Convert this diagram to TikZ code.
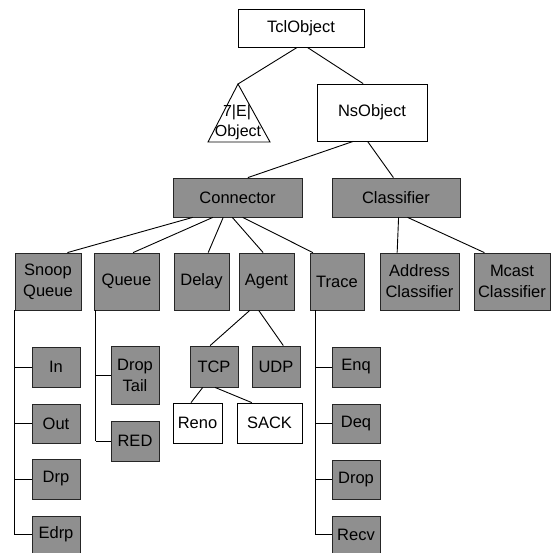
\documentclass[tikz,border=0pt]{standalone}
\usepackage{fontspec}
\setmainfont{Liberation Sans}
\usetikzlibrary{calc}
\definecolor{shade}{RGB}{143,143,143}
\tikzset{
  box/.style={draw=black, line width=0.8pt, rectangle, inner sep=0pt, align=center,
    font=\fontsize{16.5}{21}\selectfont},
  plainbox/.style={box, fill=white},
  greybox/.style={box, fill=shade, draw=black!85},
  link/.style={draw=black, line width=0.9pt},
}
\begin{document}
\begin{tikzpicture}[x=1pt, y=-1pt]
\useasboundingbox (0,0) rectangle (554,553);
\fill[white] (0,0) rectangle (554,553);

% root and first level
\node[plainbox, minimum width=126pt, minimum height=38pt] (tcl) at (301,28) {TclObject};
\node[plainbox, minimum width=110pt, minimum height=57pt] (ns) at (372,112.5) {NsObject};

% triangle standing for the remaining objects
\coordinate (apex) at (238,84);
\coordinate (bl) at (208,142);
\coordinate (br) at (270,142);
\draw[link] (apex) -- (bl) -- (br) -- cycle;
\node[font=\fontsize{16}{19}\selectfont, inner sep=0pt] (oth1) at (237,112) {7|E|};
\node[font=\fontsize{16}{19}\selectfont, inner sep=0pt] (oth2) at (238,132) {Object};

% second level
\node[greybox, minimum width=129pt, minimum height=39pt] (conn) at (237.5,197.5) {Connector};
\node[greybox, minimum width=128pt, minimum height=39pt] (cls) at (396,197.5) {Classifier};

% third level
\node[greybox, minimum width=66pt, minimum height=57pt] (snoop) at (48,281.5) {Snoop\\Queue};
\node[greybox, minimum width=65pt, minimum height=57pt] (queue) at (126.5,281.5) {Queue};
\node[greybox, minimum width=55pt, minimum height=57pt] (delay) at (201.5,281.5) {Delay};
\node[greybox, minimum width=55pt, minimum height=57pt] (agent) at (266.5,281.5) {Agent};
\node[greybox, minimum width=54pt, minimum height=57pt] (trace) at (337,281.5) {Trace};
\node[greybox, minimum width=79pt, minimum height=57pt] (addr) at (419.5,281.5) {Address\\Classifier};
\node[greybox, minimum width=76pt, minimum height=57pt] (mcast) at (512,281.5) {Mcast\\Classifier};

% snoop queue members
\node[greybox, minimum width=48pt, minimum height=40pt] (in)   at (56,367)   {In};
\node[greybox, minimum width=48pt, minimum height=39pt] (out)  at (56,423.5) {Out};
\node[greybox, minimum width=48pt, minimum height=40pt] (drp)  at (56,479)   {Drp};
\node[greybox, minimum width=48pt, minimum height=37pt] (edrp) at (56,534.5) {Edrp};

% queue members
\node[greybox, minimum width=48pt, minimum height=58pt] (dtail) at (135,375) {Drop\\Tail};
\node[greybox, minimum width=48pt, minimum height=40pt] (red)   at (135,441) {RED};

% agents
\node[greybox, minimum width=48pt, minimum height=41pt] (tcp) at (214,366.5) {TCP};
\node[greybox, minimum width=48pt, minimum height=41pt] (udp) at (276,366.5) {UDP};
\node[plainbox, minimum width=49pt, minimum height=40pt] (reno) at (197.5,423) {Reno};
\node[plainbox, minimum width=65pt, minimum height=40pt] (sack) at (269.5,423) {SACK};

% trace members
\node[greybox, minimum width=48pt, minimum height=40pt] (enq)  at (356,367)   {Enq};
\node[greybox, minimum width=48pt, minimum height=39pt] (deq)  at (356,423.5) {Deq};
\node[greybox, minimum width=48pt, minimum height=39pt] (drop) at (356,479.5) {Drop};
\node[greybox, minimum width=48pt, minimum height=37pt] (recv) at (356,534.5) {Recv};

% inheritance links
\draw[link] ($(tcl.south west)!0.47!(tcl.south east)$) -- (apex);
\draw[link] ($(tcl.south west)!0.55!(tcl.south east)$) -- ($(ns.north west)!0.42!(ns.north east)$);
\draw[link] ($(ns.south west)!0.33!(ns.south east)$) -- ($(conn.north west)!0.58!(conn.north east)$);
\draw[link] ($(ns.south west)!0.46!(ns.south east)$) -- ($(cls.north west)!0.48!(cls.north east)$);

\draw[link] ($(conn.south west)!0.155!(conn.south east)$) -- ($(snoop.north west)!0.79!(snoop.north east)$);
\draw[link] ($(conn.south west)!0.31!(conn.south east)$) -- ($(queue.north west)!0.6!(queue.north east)$);
\draw[link] ($(conn.south west)!0.39!(conn.south east)$) -- ($(delay.north west)!0.62!(delay.north east)$);
\draw[link] ($(conn.south west)!0.46!(conn.south east)$) -- ($(agent.north west)!0.44!(agent.north east)$);
\draw[link] ($(conn.south west)!0.54!(conn.south east)$) -- ($(trace.north west)!0.06!(trace.north east)$);

\draw[link] ($(cls.south west)!0.52!(cls.south east)$) -- ($(addr.north west)!0.22!(addr.north east)$);
\draw[link] ($(cls.south west)!0.59!(cls.south east)$) -- ($(mcast.north west)!0.14!(mcast.north east)$);

\draw[link] ($(agent.south west)!0.2!(agent.south east)$) -- ($(tcp.north west)!0.42!(tcp.north east)$);
\draw[link] ($(agent.south west)!0.36!(agent.south east)$) -- ($(udp.north west)!0.65!(udp.north east)$);
\draw[link] ($(tcp.south west)!0.27!(tcp.south east)$) -- ($(reno.north west)!0.37!(reno.north east)$);
\draw[link] ($(tcp.south west)!0.52!(tcp.south east)$) -- ($(sack.north west)!0.23!(sack.north east)$);

% member buses
\coordinate (sbus) at (snoop.south west);
\draw[link] (sbus) -- (sbus |- edrp.west);
\foreach \m in {in,out,drp,edrp} \draw[link] (sbus |- \m.west) -- (\m.west);

\coordinate (qbus) at ($(queue.south west)+(2,0)$);
\draw[link] (qbus) -- (qbus |- red.west);
\foreach \m in {dtail,red} \draw[link] (qbus |- \m.west) -- (\m.west);

\coordinate (tbus) at ($(trace.south west)+(6,0)$);
\draw[link] (tbus) -- (tbus |- recv.west);
\foreach \m in {enq,deq,drop,recv} \draw[link] (tbus |- \m.west) -- (\m.west);
\end{tikzpicture}
\end{document}
